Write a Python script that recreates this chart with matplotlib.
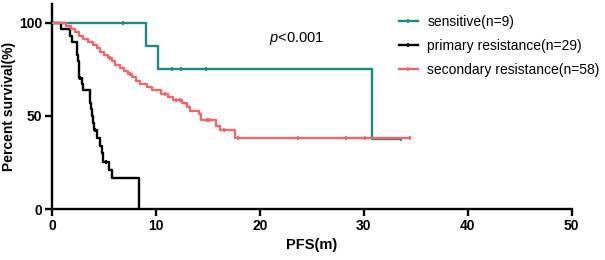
import matplotlib
matplotlib.use("Agg")
import matplotlib.pyplot as plt
from matplotlib.lines import Line2D

plt.rcParams['font.family'] = ['Liberation Sans', 'DejaVu Sans']
plt.rcParams['mathtext.fontset'] = 'custom'
plt.rcParams['mathtext.it'] = 'Liberation Sans:italic'
plt.rcParams['mathtext.rm'] = 'Liberation Sans'

# ---- data ----
sens_t = [0, 9.0, 10.2, 30.8, 33.6]
sens_s = [100, 87.5, 75.0, 37.5, 37.5]
sens_cens_t = [6.8, 11.5, 12.4, 14.8, 33.6]
sens_cens_s = [100, 75, 75, 75, 37.5]

prim_t = [0, 0.9, 1.7, 1.95, 2.4, 2.45, 2.5, 2.55, 2.6, 2.85, 3.0, 3.65, 3.7, 3.75,
          3.8, 3.9, 4.0, 4.3, 4.6, 4.85, 4.95, 5.5, 5.8, 8.4]
prim_s = [100, 96.6, 93.1, 89.7, 86.2, 82.8, 79.3, 75.9, 70.5, 67.0, 64.0, 60.5, 57.0,
          53.5, 50.0, 46.0, 42.5, 38.0, 34.0, 30.0, 25.5, 21.0, 16.5, 0]
prim_cens_t = [2.7, 4.1, 5.2]
prim_cens_s = [70.5, 42.5, 25.5]

sec_t = [0, 1.3, 1.8, 2.2, 2.6, 3.0, 3.5, 3.9, 4.3, 4.6, 5.0, 5.4, 5.8, 6.1, 6.5, 6.9,
         7.3, 7.7, 8.1, 8.5, 9.1, 9.6, 10.5, 11.2, 11.6, 12.5, 13.0, 13.3, 14.1,
         14.3, 15.8, 16.2, 17.6, 34.4]
sec_s = [100, 98.3, 96.6, 94.8, 93.1, 91.4, 89.7, 87.9, 86.2, 84.5, 82.8, 81.0, 79.3,
         77.6, 75.9, 74.1, 72.4, 70.7, 69.0, 67.2, 65.5, 63.8, 62.0, 60.2, 58.5, 56.7,
         54.8, 52.9, 50.9, 47.8, 44.5, 42.5, 37.9, 37.9]
sec_cens_t = [5.6, 7.5, 10.9, 11.9, 12.3, 14.9, 15.1, 16.5, 17.9, 23.7, 28.3, 30.1, 34.4]
sec_cens_s = [81.0, 72.4, 62.0, 58.5, 58.5, 47.8, 47.8, 42.5, 37.9, 37.9, 37.9, 37.9, 37.9]

labels = ['sensitive(n=9)', 'primary resistance(n=29)', 'secondary resistance(n=58)']
colors = ['#1b8a80', '#000000', '#f0676b']
xticks = [0, 10, 20, 30, 40, 50]
yticks = [0, 50, 100]

fig = plt.figure(figsize=(6.05, 2.6), dpi=100)
ax = fig.add_axes([0.086, 0.196, 0.859, 0.788])

lw = 1.7
series = [(sens_t, sens_s, sens_cens_t, sens_cens_s),
          (prim_t, prim_s, prim_cens_t, prim_cens_s),
          (sec_t, sec_s, sec_cens_t, sec_cens_s)]
order = [2, 0, 1]
for i in order:
    t, s, ct, cs = series[i]
    ax.step(t, s, where='post', color=colors[i], lw=lw, zorder=3 + i)
    ax.plot(ct, cs, ls='none', marker='|', ms=3.5, mew=1.3, color=colors[i], zorder=3 + i)

ax.set_xlim(0, 50)
ax.set_ylim(0, 110)
ax.set_xticks(xticks)
ax.set_yticks(yticks)
for sp in ['top', 'right']:
    ax.spines[sp].set_visible(False)
for sp in ['left', 'bottom']:
    ax.spines[sp].set_linewidth(1.7)
ax.tick_params(axis='both', width=1.7, length=5, labelsize=10, pad=2)
for lab in ax.get_xticklabels() + ax.get_yticklabels():
    lab.set_fontweight('bold')
ax.set_xlabel('PFS(m)', fontsize=10.5, fontweight='bold', labelpad=4)
ax.set_ylabel('Percent survival(%)', fontsize=10, fontweight='bold', labelpad=2)

handles = [Line2D([], [], color=c, lw=lw, marker='|', ms=3.5, mew=1.2) for c in colors]
fig.legend(handles, labels, loc='upper left', bbox_to_anchor=(399 / 605, 1 - 15 / 260),
           frameon=False, fontsize=10, handlelength=1.35, handletextpad=0.7,
           labelspacing=0.72, borderpad=0, borderaxespad=0)

ax.text(0.47, 0.83, r'$\it{p}$<0.001', transform=ax.transAxes, fontsize=10.5,
        ha='center', va='center')

fig.savefig('out.png', dpi=100)
